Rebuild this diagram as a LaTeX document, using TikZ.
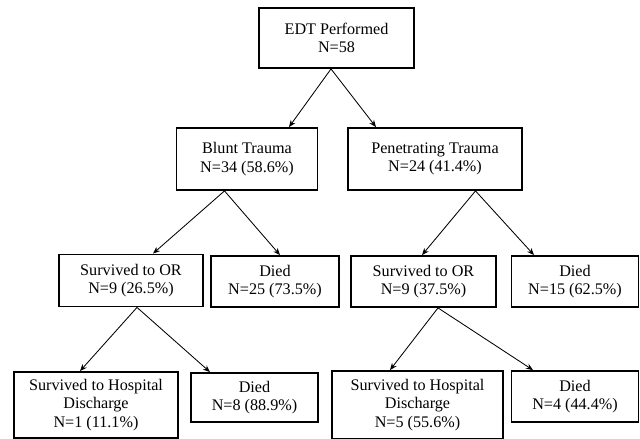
\documentclass[tikz,border=0pt]{standalone}
\usepackage{fontspec}
\setmainfont{Liberation Serif}
\usepackage{tikz}
\usetikzlibrary{calc}
\usetikzlibrary{arrows.meta}

\begin{document}
\begin{tikzpicture}[x=0.025cm,y=-0.025cm,
                    nodes={draw,line width=1.3pt,inner sep=0pt,align=center,
                           font=\fontsize{11.5}{13}\selectfont},
                    link/.style={-{Stealth[length=5pt,width=4pt]},line width=0.6pt}]
 \useasboundingbox (0,0) rectangle (640,439);
 \node[minimum width=3.875cm,minimum height=1.5cm] (edt) at (336.5,38)
      {EDT Performed\\N=58};
 \node[minimum width=3.525cm,minimum height=1.55cm] (blunt) at (247,159)
      {Blunt Trauma\\N=34 (58.6\%)};
 \node[minimum width=4.35cm,minimum height=1.55cm] (pen) at (435,159)
      {Penetrating Trauma\\N=24 (41.4\%)};
 \node[minimum width=3.6cm,minimum height=1.3cm] (orblunt) at (131,280.5)
      {Survived to OR\\N=9 (26.5\%)};
 \node[minimum width=3.2cm,minimum height=1.275cm] (diedblunt) at (275,281.5)
      {Died\\N=25 (73.5\%)};
 \node[minimum width=3.625cm,minimum height=1.275cm] (orpen) at (423.5,281.5)
      {Survived to OR\\N=9 (37.5\%)};
 \node[minimum width=3.175cm,minimum height=1.275cm] (diedpen) at (575,281.5)
      {Died\\N=15 (62.5\%)};
 \node[minimum width=4.1cm,minimum height=1.65cm] (homeblunt) at (96,405)
      {Survived to Hospital\\Discharge\\N=1 (11.1\%)};
 \node[minimum width=3.175cm,minimum height=1.225cm] (lostblunt) at (254.5,397.5)
      {Died\\N=8 (88.9\%)};
 \node[minimum width=4.275cm,minimum height=1.7cm] (homepen) at (417.5,405)
      {Survived to Hospital\\Discharge\\N=5 (55.6\%)};
 \node[minimum width=3.175cm,minimum height=1.275cm] (lostpen) at (575,396.5)
      {Died\\N=4 (44.4\%)};
 \draw[link] ($(edt.south)+(-5.5,0)$) -- ($(blunt.north)+(42,0)$);
 \draw[link] ($(edt.south)+(-5.5,0)$) -- ($(pen.north)+(-59,0)$);
 \draw[link] ($(blunt.south)+(-22.5,0)$) -- ($(orblunt.north)+(22,0)$);
 \draw[link] ($(blunt.south)+(-22.5,0)$) -- ($(diedblunt.north)+(5,0)$);
 \draw[link] ($(pen.south)+(40.5,0)$) -- ($(orpen.north)+(-1.5,0)$);
 \draw[link] ($(pen.south)+(40.5,0)$) -- ($(diedpen.north)+(-41,0)$);
 \draw[link] ($(orblunt.south)+(6,0)$) -- ($(homeblunt.north)+(-16,0)$);
 \draw[link] ($(orblunt.south)+(6,0)$) -- ($(lostblunt.north)+(-44.5,0)$);
 \draw[link] ($(orpen.south)+(14.5,0)$) -- ($(homepen.north)+(-27.5,0)$);
 \draw[link] ($(orpen.south)+(14.5,0)$) -- ($(lostpen.north)+(-42,0)$);
\end{tikzpicture}
\end{document}
